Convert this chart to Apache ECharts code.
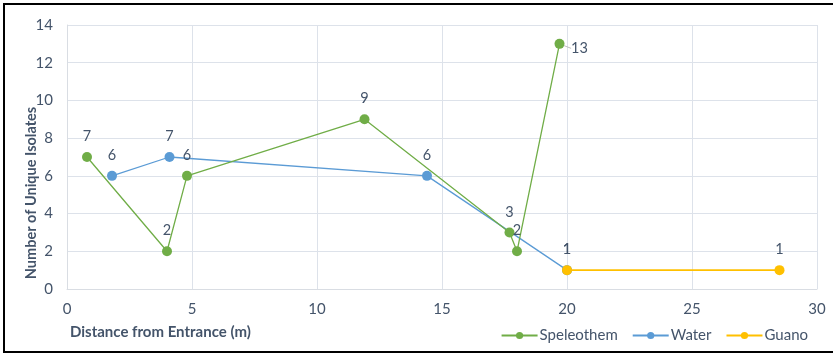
<!DOCTYPE html>
<html>
<head>
<meta charset="utf-8">
<script src="https://cdn.jsdelivr.net/npm/echarts@6/dist/echarts.min.js"></script>
<style>
html,body{margin:0;padding:0;background:#fff;}
#chart{width:833px;height:355px;}
</style>
</head>
<body>
<div id="chart"></div>
<script>
const speleothemX = [0.8, 4.0, 4.8, 11.9, 17.7, 18.0, 19.7];
const speleothemY = [7, 2, 6, 9, 3, 2, 13];
const waterX = [1.8, 4.1, 14.4, 20];
const waterY = [6, 7, 6, 1];
const guanoX = [20, 28.5];
const guanoY = [1, 1];
const xTitle = 'Distance from Entrance (m)';
const yTitle = 'Number of Unique Isolates';

const textColor = '#44546a';
const font = 'Lato, "Open Sans", "Liberation Sans", sans-serif';

function pairs(xs, ys) { return xs.map((x, i) => [x, ys[i]]); }

const baseLabel = {
  show: true, position: 'top', distance: 8,
  color: textColor, fontSize: 14.5, fontFamily: font
};

const spelData = pairs(speleothemX, speleothemY).map((v, i) => {
  if (i === 6) { return { value: v }; }
  return { value: v, labelLine: { show: false } };
});

const chart = echarts.init(document.getElementById('chart'));
chart.setOption({
  animation: false,
  grid: { left: 67, right: 16, top: 25, bottom: 66 },
  graphic: [
    {
      type: 'rect', shape: { x: 4, y: 4, width: 840, height: 348 },
      style: { fill: 'none', stroke: '#000', lineWidth: 2 }, silent: true
    },
    {
      type: 'text', x: 31, y: 193, rotation: Math.PI / 2,
      style: { text: yTitle, fill: textColor, fontSize: 14.5, fontWeight: 'bold', fontFamily: font, align: 'center', verticalAlign: 'middle' },
      silent: true
    }
  ],
  legend: {
    right: 20, bottom: 7, itemWidth: 36, itemHeight: 9, itemGap: 14,
    textStyle: { color: textColor, fontSize: 15, fontFamily: font, padding: [0, 0, 0, -3] },
    data: ['Speleothem', 'Water', 'Guano']
  },
  xAxis: {
    type: 'value', min: 0, max: 30, interval: 5,
    name: xTitle, nameLocation: 'start',
    nameTextStyle: { color: textColor, fontSize: 15, fontWeight: 'bold', fontFamily: font, align: 'left', verticalAlign: 'top', padding: [36, 0, 0, 0] },
    nameGap: -3,
    axisLine: { show: true, lineStyle: { color: '#d9dde3' } },
    axisTick: { show: false },
    axisLabel: { color: textColor, fontSize: 15, fontFamily: font, margin: 13 },
    splitLine: { show: true, lineStyle: { color: '#dde2ea', width: 1 } }
  },
  yAxis: {
    type: 'value', min: 0, max: 14, interval: 2,
    axisLine: { show: true, lineStyle: { color: '#d9dde3' } },
    axisTick: { show: false },
    axisLabel: { color: textColor, fontSize: 15, fontFamily: font, margin: 14 },
    splitLine: { show: true, lineStyle: { color: '#dde2ea', width: 1 } }
  },
  series: [
    {
      name: 'Speleothem', type: 'line', symbol: 'circle', symbolSize: 10,
      itemStyle: { color: '#70ad47' }, lineStyle: { width: 1.3, color: '#70ad47' },
      label: baseLabel,
      labelLine: { show: true, lineStyle: { color: '#bfbfbf', width: 1 } },
      labelLayout: function (p) {
        if (p.dataIndex === 6) { return { dx: 20, dy: 25 }; }
        return {};
      },
      data: spelData, z: 3
    },
    {
      name: 'Water', type: 'line', symbol: 'circle', symbolSize: 10,
      itemStyle: { color: '#5b9bd5' }, lineStyle: { width: 1.3, color: '#5b9bd5' },
      label: baseLabel,
      data: pairs(waterX, waterY), z: 2
    },
    {
      name: 'Guano', type: 'line', symbol: 'circle', symbolSize: 10,
      itemStyle: { color: '#ffc000' }, lineStyle: { width: 1.6, color: '#ffc000' },
      label: baseLabel,
      data: pairs(guanoX, guanoY), z: 4
    }
  ]
});
</script>
</body>
</html>
